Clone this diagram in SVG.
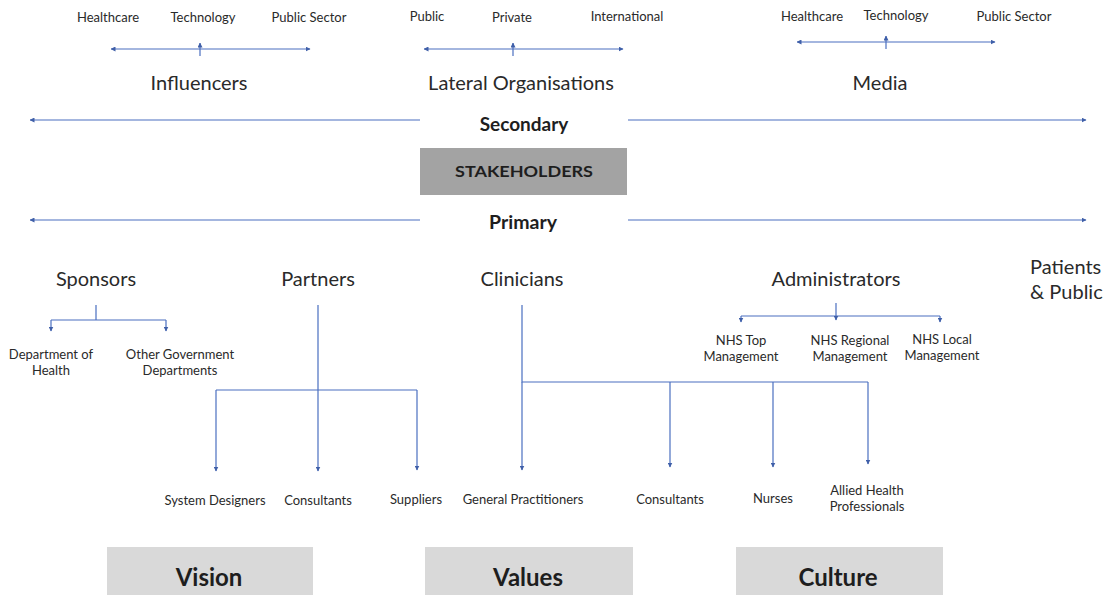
<svg xmlns="http://www.w3.org/2000/svg" width="1104" height="595" viewBox="0 0 1104 595">
  <style>
    .lbl { font-family: Lato, "Open Sans", sans-serif; fill: #2a2a2a; text-anchor: middle; }
    .sm { font-size: 13px; }
    .md { font-size: 20px; }
    .st { text-anchor: start; }
    .bd { font-family: Lato, "Open Sans", sans-serif; font-weight: bold; fill: #1e1e1e; text-anchor: middle; }
    .ln { stroke: #4a6fc0; stroke-width: 1.2; fill: none; }
    .arr { marker-end: url(#tip); }
  </style>
  <defs>
    <marker id="tip" viewBox="0 0 10 10" refX="9" refY="5" markerWidth="5" markerHeight="5" orient="auto" markerUnits="userSpaceOnUse">
      <path d="M0,0 L10,5 L0,10 z" fill="#3f5fa8"/>
    </marker>
  </defs>
  <rect width="1104" height="595" fill="#fff"/>

  <!-- connectors -->
  <g id="connectors">
    <!-- secondary groups: centre stem with arrows out to both ends and up -->
    <path class="ln arr" d="M200,49 H111"/>
    <path class="ln arr" d="M200,49 H310"/>
    <path class="ln arr" d="M200,56 V43"/>
    <path class="ln arr" d="M513,49 H424"/>
    <path class="ln arr" d="M513,49 H623"/>
    <path class="ln arr" d="M513,56 V43"/>
    <path class="ln arr" d="M886,42 H797"/>
    <path class="ln arr" d="M886,42 H995"/>
    <path class="ln arr" d="M886,49 V36"/>
    <!-- tier lines -->
    <path class="ln arr" d="M420,120 H30"/>
    <path class="ln arr" d="M628,120 H1086"/>
    <path class="ln arr" d="M420,220 H30"/>
    <path class="ln arr" d="M628,220 H1086"/>
    <!-- sponsors -->
    <path class="ln" d="M96,305 V320 M51,320 H166"/>
    <path class="ln arr" d="M51,320 V331"/>
    <path class="ln arr" d="M166,320 V331"/>
    <!-- partners -->
    <path class="ln" d="M318,305 V390 M216,390 H417"/>
    <path class="ln arr" d="M216,390 V471"/>
    <path class="ln arr" d="M318,390 V471"/>
    <path class="ln arr" d="M417,390 V470"/>
    <!-- clinicians -->
    <path class="ln" d="M522,305 V382 H868"/>
    <path class="ln arr" d="M522,382 V470"/>
    <path class="ln arr" d="M670,382 V467"/>
    <path class="ln arr" d="M773,382 V467"/>
    <path class="ln arr" d="M868,382 V464"/>
    <!-- administrators -->
    <path class="ln" d="M741,316 H940"/>
    <path class="ln arr" d="M836,303 V320"/>
    <path class="ln arr" d="M741,316 V322"/>
    <path class="ln arr" d="M940,316 V322"/>
  </g>

  <g id="influencers">
    <text class="lbl sm" x="108" y="22">Healthcare</text>
    <text class="lbl sm" x="203" y="22">Technology</text>
    <text class="lbl sm" x="309" y="22">Public Sector</text>
    <text class="lbl md" x="199" y="90">Influencers</text>
  </g>
  <g id="lateral">
    <text class="lbl sm" x="427" y="21">Public</text>
    <text class="lbl sm" x="512" y="22">Private</text>
    <text class="lbl sm" x="627" y="21">International</text>
    <text class="lbl md" x="521" y="90">Lateral Organisations</text>
  </g>
  <g id="media">
    <text class="lbl sm" x="812" y="21">Healthcare</text>
    <text class="lbl sm" x="896" y="20">Technology</text>
    <text class="lbl sm" x="1014" y="21">Public Sector</text>
    <text class="lbl md" x="880" y="90">Media</text>
  </g>

  <g id="secondary"><text class="bd" x="524" y="131" font-size="19">Secondary</text></g>
  <g id="stakeholders">
    <rect x="420" y="148" width="207" height="47" fill="#a3a3a3"/>
    <text class="bd" x="524" y="177" font-size="16" textLength="138" lengthAdjust="spacingAndGlyphs">STAKEHOLDERS</text>
  </g>
  <g id="primary"><text class="bd" x="523" y="229" font-size="19.5">Primary</text></g>

  <g id="sponsors">
    <text class="lbl md" x="96" y="286">Sponsors</text>
    <text class="lbl sm" x="51" y="359">Department of</text>
    <text class="lbl sm" x="51" y="375">Health</text>
    <text class="lbl sm" x="180" y="359">Other Government</text>
    <text class="lbl sm" x="180" y="375">Departments</text>
  </g>
  <g id="partners">
    <text class="lbl md" x="318" y="286">Partners</text>
    <text class="lbl sm" x="215" y="505">System Designers</text>
    <text class="lbl sm" x="318" y="505">Consultants</text>
    <text class="lbl sm" x="416" y="504">Suppliers</text>
  </g>
  <g id="clinicians">
    <text class="lbl md" x="522" y="286">Clinicians</text>
    <text class="lbl sm" x="523" y="504">General Practitioners</text>
    <text class="lbl sm" x="670" y="504">Consultants</text>
    <text class="lbl sm" x="773" y="503">Nurses</text>
    <text class="lbl sm" x="867" y="495">Allied Health</text>
    <text class="lbl sm" x="867" y="511">Professionals</text>
  </g>
  <g id="administrators">
    <text class="lbl md" x="836" y="286">Administrators</text>
    <text class="lbl sm" x="741" y="345">NHS Top</text>
    <text class="lbl sm" x="741" y="361">Management</text>
    <text class="lbl sm" x="850" y="345">NHS Regional</text>
    <text class="lbl sm" x="850" y="361">Management</text>
    <text class="lbl sm" x="942" y="344">NHS Local</text>
    <text class="lbl sm" x="942" y="360">Management</text>
  </g>
  <g id="patients">
    <text class="lbl md st" x="1030" y="274">Patients</text>
    <text class="lbl md st" x="1030" y="299">&amp; Public</text>
  </g>

  <g id="vision">
    <rect x="107" y="547" width="206" height="48" fill="#d9d9d9"/>
    <text class="bd" x="209" y="586" font-size="24">Vision</text>
  </g>
  <g id="values">
    <rect x="425" y="547" width="208" height="48" fill="#d9d9d9"/>
    <text class="bd" x="528" y="586" font-size="24">Values</text>
  </g>
  <g id="culture">
    <rect x="736" y="547" width="207" height="48" fill="#d9d9d9"/>
    <text class="bd" x="838" y="586" font-size="24">Culture</text>
  </g>
</svg>
